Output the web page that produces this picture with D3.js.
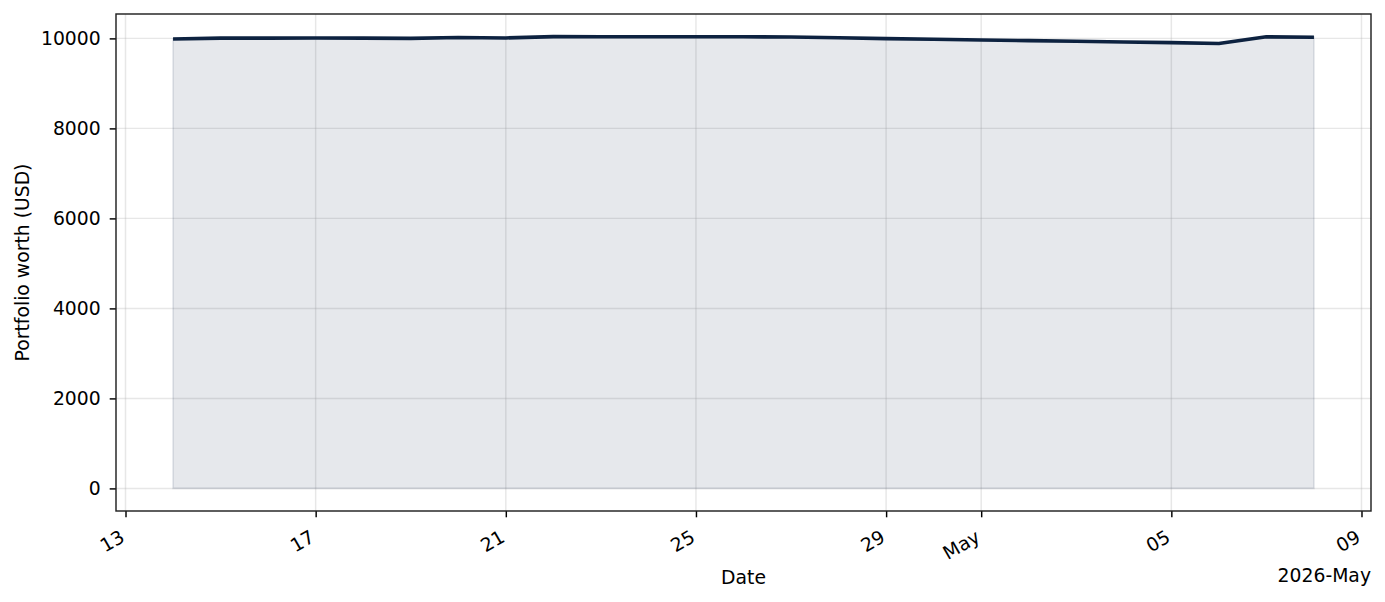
<!DOCTYPE html>
<html><head><meta charset="utf-8">
<script src="https://cdn.jsdelivr.net/npm/d3@7"></script>
<style>body{margin:0;background:#fff}svg{display:block}text{font-family:"DejaVu Sans",sans-serif;fill:#000}</style>
</head><body><svg id="c" width="1385" height="602"></svg>
<script>
const dates = ["2026-04-14","2026-04-15","2026-04-16","2026-04-17","2026-04-18","2026-04-19","2026-04-20","2026-04-21","2026-04-22","2026-04-23","2026-04-24","2026-04-25","2026-04-26","2026-04-27","2026-04-28","2026-04-29","2026-04-30","2026-05-01","2026-05-02","2026-05-03","2026-05-04","2026-05-05","2026-05-06","2026-05-07","2026-05-08"];
const worth = [9985,10005,10005,10010,10005,10000,10020,10010,10040,10038,10035,10035,10035,10030,10015,9995,9980,9965,9950,9935,9920,9905,9885,10035,10025];
const xTickDates = ["2026-04-13","2026-04-17","2026-04-21","2026-04-25","2026-04-29","2026-05-01","2026-05-05","2026-05-09"];
const xTickLabels = ["13","17","21","25","29","May","05","09"];
const yTicks = [0,2000,4000,6000,8000,10000];

const parse = d3.utcParse("%Y-%m-%d");
const data = dates.map((d,i)=>({t:parse(d), v:worth[i]}));
const L=116,R=1371,T=14,B=511;
const svg = d3.select("#c");
const t0 = data[0].t, t1 = data[data.length-1].t;
const span = t1 - t0;
const x = d3.scaleUtc().domain([new Date(+t0 - span*0.05), new Date(+t1 + span*0.05)]).range([L,R]);
const vmax = d3.max(worth), vmin = 0;
const y = d3.scaleLinear().domain([vmin-(vmax-vmin)*0.05, vmax+(vmax-vmin)*0.05]).range([B,T]);

const fs = 18.8;
// grid
const g = svg.append("g");
xTickDates.forEach(d=>{ const xx=x(parse(d)); g.append("line").attr("x1",xx).attr("x2",xx).attr("y1",T).attr("y2",B).attr("stroke","#b0b0b0").attr("stroke-opacity",0.3).attr("stroke-width",1.45);});
yTicks.forEach(v=>{ const yy=y(v); g.append("line").attr("x1",L).attr("x2",R).attr("y1",yy).attr("y2",yy).attr("stroke","#b0b0b0").attr("stroke-opacity",0.3).attr("stroke-width",1.45);});

// fill
const area = d3.area().x(d=>x(d.t)).y0(y(0)).y1(d=>y(d.v));
svg.append("path").datum(data).attr("d",area).attr("fill","#0d2240").attr("fill-opacity",0.1).attr("stroke","#0d2240").attr("stroke-opacity",0.1).attr("stroke-width",1.8);
const line = d3.line().x(d=>x(d.t)).y(d=>y(d.v));
svg.append("path").datum(data).attr("d",line).attr("fill","none").attr("stroke","#0d2240").attr("stroke-width",3.6).attr("stroke-linejoin","round");

// axes
const xa = svg.append("g").attr("transform",`translate(0,${B})`)
  .call(d3.axisBottom(x).tickValues(xTickDates.map(parse)).tickFormat((d,i)=>xTickLabels[i]).tickSize(6.3).tickPadding(0).tickSizeOuter(0));
xa.select(".domain").remove();
xa.selectAll(".tick line").attr("stroke","#000").attr("stroke-width",1.45);
xa.selectAll(".tick text").attr("font-size",fs).attr("text-anchor","end").attr("dy",null)
  .attr("transform","translate(-7,18) rotate(-30)").attr("dominant-baseline","hanging").attr("y",0);

const ya = svg.append("g").attr("transform",`translate(${L},0)`)
  .call(d3.axisLeft(y).tickValues(yTicks).tickFormat(d3.format("d")).tickSize(6.3).tickPadding(9).tickSizeOuter(0));
ya.select(".domain").remove();
ya.selectAll(".tick line").attr("stroke","#000").attr("stroke-width",1.45);
ya.selectAll(".tick text").attr("font-size",fs);

svg.append("rect").attr("x",L).attr("y",T).attr("width",R-L).attr("height",B-T).attr("fill","none").attr("stroke","#222").attr("stroke-width",1.45);

svg.append("text").attr("x",(L+R)/2).attr("y",584).attr("text-anchor","middle").attr("font-size",fs).text("Date");
svg.append("text").attr("x",R).attr("y",582).attr("text-anchor","end").attr("font-size",fs).text("2026-May");
svg.append("text").attr("transform",`translate(29,${(T+B)/2}) rotate(-90)`).attr("text-anchor","middle").attr("font-size",fs).text("Portfolio worth (USD)");
</script></body></html>
